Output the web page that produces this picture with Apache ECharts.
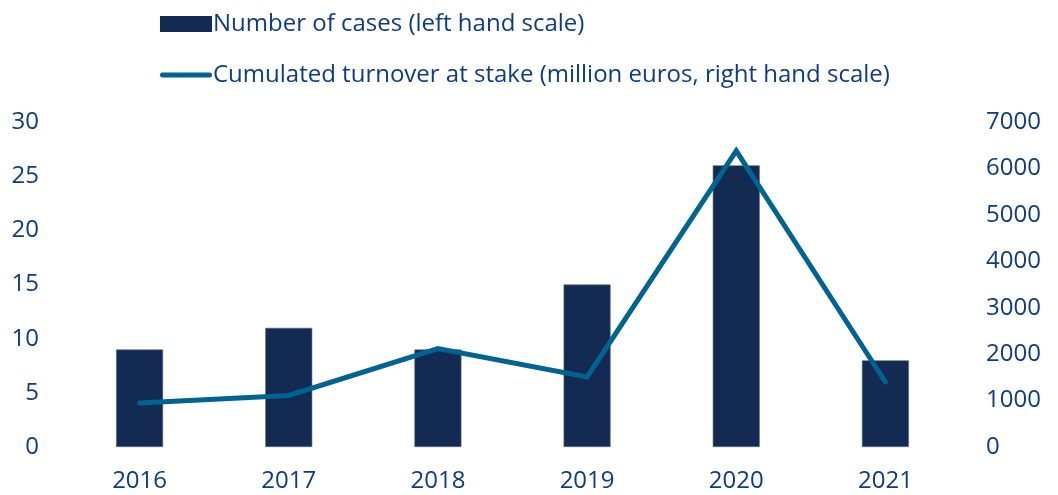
<!DOCTYPE html>
<html><head><meta charset="utf-8">
<script src="https://cdn.jsdelivr.net/npm/echarts@6/dist/echarts.min.js"></script>
<style>html,body{margin:0;padding:0;background:#fff}#c{width:1058px;height:495px}</style>
</head><body><div id="c"></div>
<script>
var years = ['2016','2017','2018','2019','2020','2021'];
var cases = [9, 11, 9, 15, 26, 8];
var turnover = [950, 1110, 2120, 1510, 6380, 1400];
var leftTicks = [0, 5, 10, 15, 20, 25, 30];
var rightTicks = [0, 1000, 2000, 3000, 4000, 5000, 6000, 7000];
var barName = 'Number of cases (left hand scale)';
var lineName = 'Cumulated turnover at stake (million euros, right hand scale)';

var txt = '#0E3B87';
var font = 'Open Sans';
var fs = 24;
var chart = echarts.init(document.getElementById('c'), null, {renderer:'canvas'});
chart.setOption({
  animation: false,
  textStyle: {fontFamily: font},
  legend: {
    orient: 'vertical', left: 155, top: 7, itemGap: 27, itemWidth: 52, itemHeight: 16,
    textStyle: {color: txt, fontSize: fs, fontFamily: font, padding: [0,0,0,-4]},
    data: [
      {name: barName, icon: 'rect', itemStyle: {borderWidth: 0}},
      {name: lineName, icon: 'path://M2.5,0 L49.5,0 A2.5,2.5 0 0 1 49.5,5 L2.5,5 A2.5,2.5 0 0 1 2.5,0 Z', itemStyle:{color:'#006392'}}
    ]
  },
  grid: {left: 65, right: 98, top: 122, bottom: 48},
  xAxis: {
    type: 'category', data: years,
    axisLine: {show: false}, axisTick: {show: false},
    axisLabel: {color: txt, fontSize: fs, margin: 22, fontFamily: font}
  },
  yAxis: [
    {type: 'value', min: leftTicks[0], max: leftTicks[leftTicks.length-1], interval: 5,
     splitLine: {show: false}, axisLine: {show: false}, axisTick: {show: false},
     axisLabel: {color: txt, fontSize: fs, margin: 26, fontFamily: font, padding: [4,0,0,0]}},
    {type: 'value', min: rightTicks[0], max: rightTicks[rightTicks.length-1], interval: 1000,
     splitLine: {show: false}, axisLine: {show: false}, axisTick: {show: false},
     axisLabel: {color: txt, fontSize: fs, margin: 26, fontFamily: font, padding: [4,0,0,0],
       formatter: function(v){ return String(v); }}}
  ],
  series: [
    {name: barName, type: 'bar', data: cases, barWidth: 47, yAxisIndex: 0,
     itemStyle: {color: '#132B52', borderColor: '#5C6A85', borderWidth: 0.6}},
    {name: lineName, type: 'line', data: turnover, yAxisIndex: 1, symbol: 'none', z: 5,
     lineStyle: {color: '#006392', width: 5, cap: 'round', join: 'miter'},
     itemStyle: {color: '#006392'}}
  ]
});
</script></body></html>
